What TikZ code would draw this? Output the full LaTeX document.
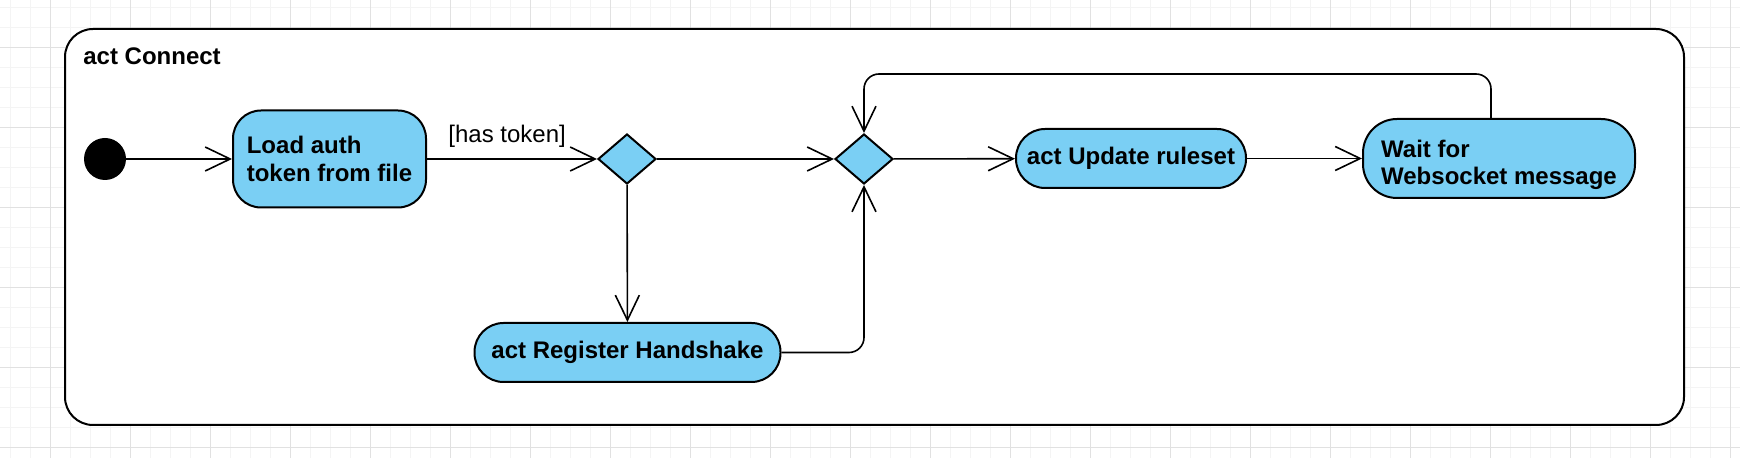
\documentclass[tikz,border=0pt]{standalone}
\usepackage{fontspec}
\setmainfont{Liberation Sans}
\usetikzlibrary{arrows.meta,shapes.geometric}
\definecolor{nodefill}{RGB}{122,207,244}
\definecolor{gridminor}{RGB}{244,244,244}
\definecolor{gridmajor}{RGB}{225,225,225}
\begin{document}
\begin{tikzpicture}[x=0.5pt,y=-0.5pt,
  txt/.style={font=\fontsize{12}{14}\selectfont},
  btxt/.style={font=\bfseries\fontsize{12}{13.6}\selectfont},
  actbox/.style={draw=black, line width=1pt, fill=nodefill, btxt, align=left, inner sep=0pt},
  decision/.style={draw=black, line width=1pt, fill=nodefill, diamond, minimum width=29pt, minimum height=25pt, inner sep=0pt},
  flow/.style={draw=black, line width=0.8pt, -{Straight Barb[length=12.5pt,width=12pt,line width=0.8pt]}},
]
% background and grid
\useasboundingbox (0,0) rectangle (1740,458);
\fill[white] (0,0) rectangle (1740,458);
\foreach \x in {10,30,...,1730} \draw[gridminor, line width=0.5pt] (\x,0) -- (\x,458);
\foreach \y in {8,28,...,448} \draw[gridminor, line width=0.5pt] (0,\y) -- (1740,\y);
\foreach \x in {50,130,...,1730} \draw[gridmajor, line width=0.5pt] (\x,0) -- (\x,458);
\foreach \y in {48,128,...,448} \draw[gridmajor, line width=0.5pt] (0,\y) -- (1740,\y);

% frame
\node[draw=black, line width=1pt, fill=white, rounded corners=14pt, minimum width=809.5pt, minimum height=198pt, inner sep=0pt] (frame) at (874.5,227) {};
\node[btxt, anchor=base west, inner sep=0pt] (title) at (83,65) {act Connect};

% nodes
\node[circle, fill=black, minimum size=21pt, inner sep=0pt] (start) at (105,159) {};
\node[actbox, rounded corners=14pt, minimum width=96.5pt, minimum height=48.5pt] (load) at (329.5,159) {Load auth\\token from file};
\node[decision] (d1) at (627,159) {};
\node[decision] (d2) at (864,159) {};
\node[actbox, rounded corners=14.5pt, minimum width=153pt, minimum height=29.5pt] (reg) at (627.5,352.5) {act Register Handshake};
\node[actbox, rounded corners=14.5pt, minimum width=115pt, minimum height=29.5pt] (upd) at (1131,158.5) {act Update ruleset};
\node[actbox, rounded corners=17pt, minimum width=136pt, minimum height=39.5pt] (wait) at (1499,158.5) {};
\node[btxt, align=left, inner sep=0pt] (waittext) at (1499,165) {Wait for\\Websocket message};

% label
\node[txt, anchor=base west, inner sep=0pt] (guard) at (448,143) {[has token]};

% connectors
\coordinate (loopR) at (1491,74);
\draw[flow] (start) -- (load);
\draw[flow] (load) -- (d1);
\draw[flow] (d1) -- (d2);
\draw[flow] (d1) -- (reg);
\draw[flow, rounded corners=7.5pt] (reg.east) -| (d2.south);
\draw[flow] (d2) -- (upd);
\draw[flow] (upd) -- (wait);
\draw[flow, rounded corners=7.5pt] ([xshift=-4pt]wait.north) -- (loopR) -| (d2.north);
\end{tikzpicture}
\end{document}
